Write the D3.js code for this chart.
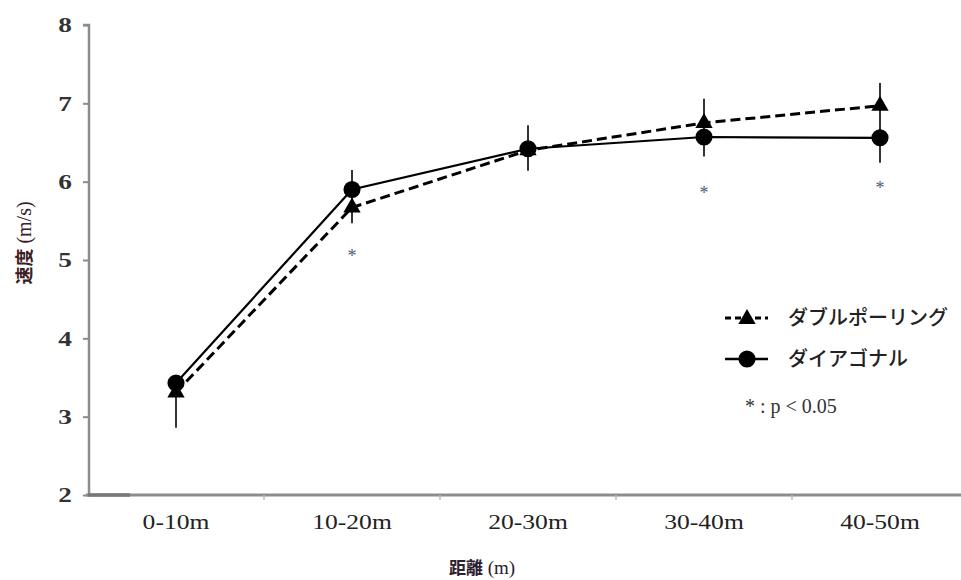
<!DOCTYPE html>
<html>
<head>
<meta charset="utf-8">
<script src="https://cdn.jsdelivr.net/npm/d3@7"></script>
<style>
  html, body { margin: 0; padding: 0; background: #fff; }
  svg { display: block; }
</style>
</head>
<body>
<svg id="chart" width="961" height="580"></svg>
<script>
// ---- data ----
const categories = ["0-10m", "10-20m", "20-30m", "30-40m", "40-50m"];
const doublePoling = [3.31, 5.67, 6.40, 6.75, 6.97];   // ダブルポーリング (triangle, dashed)
const diagonal     = [3.43, 5.90, 6.42, 6.57, 6.56];   // ダイアゴナル (circle, solid)
const errHigh = [3.43, 6.15, 6.72, 7.06, 7.26];
const errLow  = [2.86, 5.47, 6.14, 6.32, 6.24];
const sigCategories = ["10-20m", "30-40m", "40-50m"];
const sigLevels = [5.06, 5.87, 5.93];
const yTicks = [2, 3, 4, 5, 6, 7, 8];
const seriesNames = ["ダブルポーリング", "ダイアゴナル"];
const noteText = "* : p < 0.05";
const xTitle = ["距離", " (m)"];
const yTitle = ["速度", " (m/s)"];

// ---- layout ----
const svg = d3.select("#chart");
const x = d3.scaleBand().domain(categories).range([88, 968]).padding(0);
const y = d3.scaleLinear().domain([2, 8]).range([495, 25]);
const cx = c => x(c) + x.bandwidth() / 2;
const axisColor = "#8c8c8c";
const serif = "'Liberation Serif', 'Times New Roman', serif";
const jp = "'Noto Sans CJK JP', 'Noto Sans', sans-serif";

// Y axis
const yAxis = svg.append("g").attr("transform", "translate(89,0)")
  .call(d3.axisLeft(y).tickValues(yTicks).tickSize(6).tickPadding(0).tickFormat(d3.format("d")));
yAxis.select(".domain").attr("stroke", axisColor).attr("stroke-width", 2.5)
  .attr("d", `M-6,${y(8)}H0V${y(2)}`);
yAxis.selectAll(".tick line").attr("stroke", axisColor).attr("stroke-width", 2);
yAxis.selectAll(".tick text").attr("font-family", serif).attr("font-size", 21).attr("font-weight", "bold")
  .attr("fill", "#333").attr("x", 0).attr("text-anchor", "end")
  .attr("transform", "translate(-17,0) scale(1.3,1)");

// X axis
const xAxis = svg.append("g").attr("transform", `translate(0,${y(2)})`)
  .call(d3.axisBottom(x).tickSize(0).tickPadding(20));
xAxis.select(".domain").attr("stroke", axisColor).attr("stroke-width", 3)
  .attr("d", `M86,0H961`);
xAxis.selectAll(".tick text").attr("font-family", serif).attr("font-size", 20).attr("fill", "#222")
  .attr("transform", "scale(1.28,1)");
// darker start segment of the x axis
svg.append("line").attr("x1", x.range()[0]).attr("x2", x.range()[0] + 42)
  .attr("y1", y(2)).attr("y2", y(2)).attr("stroke", "#777").attr("stroke-width", 3.5);
// boundary tick marks
svg.append("g").selectAll("line").data(categories.slice(1)).join("line")
  .attr("x1", d => x(d)).attr("x2", d => x(d))
  .attr("y1", y(2)).attr("y2", y(2) + 5)
  .attr("stroke", "#bbb").attr("stroke-width", 1.5);

// Error bars
svg.append("g").selectAll("line").data(categories).join("line")
  .attr("x1", d => cx(d)).attr("x2", d => cx(d))
  .attr("y1", (d, i) => y(errLow[i])).attr("y2", (d, i) => y(errHigh[i]))
  .attr("stroke", "#000").attr("stroke-width", 1.6);

// Lines
const line = d3.line().x((d, i) => cx(categories[i])).y(d => y(d));
svg.append("path").datum(diagonal).attr("d", line)
  .attr("fill", "none").attr("stroke", "#000").attr("stroke-width", 2.2);
svg.append("path").datum(doublePoling).attr("d", line)
  .attr("fill", "none").attr("stroke", "#000").attr("stroke-width", 3)
  .attr("stroke-dasharray", "10,5");

// Markers
const tri = d3.symbol().type(d3.symbolTriangle).size(130);
const circ = d3.symbol().type(d3.symbolCircle).size(230);
svg.append("g").selectAll("path").data(doublePoling).join("path")
  .attr("d", tri).attr("transform", (d, i) => `translate(${cx(categories[i])},${y(d)})`)
  .attr("fill", "#000");
svg.append("g").selectAll("path").data(diagonal).join("path")
  .attr("d", circ).attr("transform", (d, i) => `translate(${cx(categories[i])},${y(d)})`)
  .attr("fill", "#000");

// Significance asterisks
svg.append("g").selectAll("text").data(sigCategories).join("text")
  .attr("x", d => cx(d)).attr("y", (d, i) => y(sigLevels[i]) + 7)
  .attr("text-anchor", "middle").attr("font-family", serif).attr("font-size", 18)
  .attr("fill", "#4a5a78").text("*");

// Legend
const lg = svg.append("g");
const legendY = [318, 359];
lg.append("line").attr("x1", 725).attr("x2", 768).attr("y1", legendY[0]).attr("y2", legendY[0])
  .attr("stroke", "#000").attr("stroke-width", 3).attr("stroke-dasharray", "6,4");
lg.append("path").attr("d", tri).attr("transform", `translate(747,${legendY[0] + 1})`).attr("fill", "#000");
lg.append("line").attr("x1", 725).attr("x2", 768).attr("y1", legendY[1]).attr("y2", legendY[1])
  .attr("stroke", "#000").attr("stroke-width", 2.5);
lg.append("path").attr("d", circ).attr("transform", `translate(747,${legendY[1]})`).attr("fill", "#000");
lg.selectAll("text.name").data(seriesNames).join("text").attr("class", "name")
  .attr("x", 788).attr("y", (d, i) => legendY[i] + 7)
  .attr("font-family", jp).attr("font-size", 20).attr("font-weight", 500).attr("fill", "#222")
  .text(d => d);
lg.append("text").attr("x", 745).attr("y", 413)
  .attr("font-family", serif).attr("font-size", 20).attr("fill", "#333").text(noteText);

// Axis titles (CJK part in gothic, parenthetical unit in serif)
function title(sel, parts, size, color) {
  sel.attr("text-anchor", "middle").attr("fill", color);
  sel.append("tspan").attr("font-family", jp).attr("font-size", size).attr("font-weight", "bold").text(parts[0]);
  sel.append("tspan").attr("font-family", serif).attr("font-size", size + 2).text(parts[1]);
}
title(svg.append("text").attr("x", 482).attr("y", 574), xTitle, 17, "#2a2030");
title(svg.append("text").attr("transform", "translate(31,243) rotate(-90)"), yTitle, 18, "#3a2025");
</script>
</body>
</html>
